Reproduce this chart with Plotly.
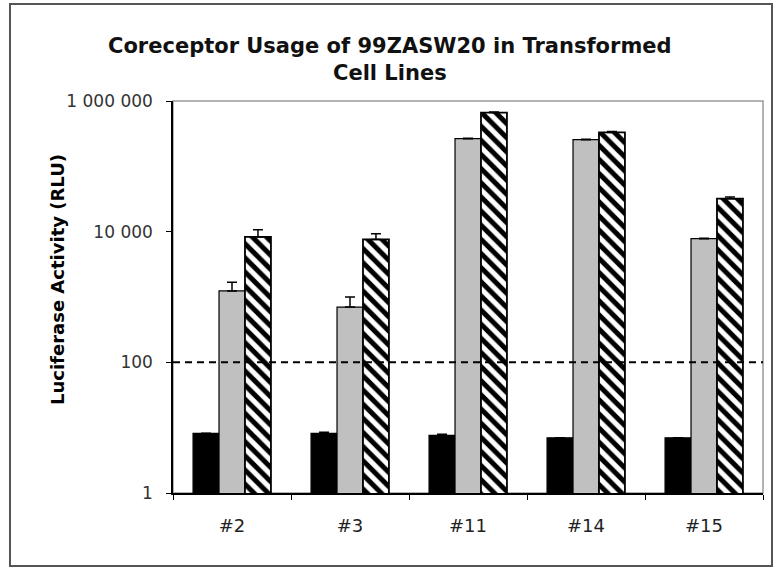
import plotly.graph_objects as go

categories = ["#2", "#3", "#11", "#14", "#15"]
black_vals = [8.2, 8.2, 7.6, 7.0, 7.0]
black_err = [0, 0.3, 0.3, 0, 0]
gray_vals = [1240, 700, 265000, 256000, 7800]
gray_err = [440, 300, 4000, 3000, 150]
hatch_vals = [8300, 7600, 665000, 330000, 32000]
hatch_err = [2400, 1700, 15000, 10000, 2000]
threshold = 100
ytick_vals = [1, 100, 10000, 1000000]
ytick_text = ["1", "100", "10 000", "1 000 000"]
title_lines = ["Coreceptor Usage of 99ZASW20 in Transformed", "Cell Lines"]
ytitle = "Luciferase Activity (RLU)"

W, H = 780, 569
L, R, T, B = 173, 17, 101, 76
pw, ph = W - L - R, H - T - B
FONT = "DejaVu Sans, Liberation Sans, Arial"

def px_x(x):
    return (x - L) / pw

def px_y(y):
    return (H - B - y) / ph

def err(vals):
    return dict(type="data", array=vals, arrayminus=[0] * len(vals), symmetric=False,
                color="black", thickness=1.5, width=5)

fig = go.Figure()
fig.add_bar(x=categories, y=black_vals, marker=dict(color="black", line=dict(color="black", width=1.2)),
            error_y=err(black_err), name="black")
fig.add_bar(x=categories, y=gray_vals, marker=dict(color="#c0c0c0", line=dict(color="black", width=1.2)),
            error_y=err(gray_err), name="gray")
fig.add_bar(x=categories, y=hatch_vals,
            marker=dict(color="white", line=dict(color="black", width=1.8),
                        pattern=dict(shape="\\", fgcolor="black", bgcolor="white", size=10, solidity=0.5,
                                     fillmode="replace")),
            error_y=err(hatch_err), name="hatched")

# plot-area border (gray)
fig.add_shape(type="rect", xref="paper", yref="paper", x0=0, x1=1, y0=0, y1=1,
              line=dict(color="#9a9a9a", width=1.5), layer="below")
# threshold line
fig.add_shape(type="line", xref="paper", yref="y", x0=0, x1=1, y0=threshold, y1=threshold,
              line=dict(color="black", width=2, dash="7px,5px"), layer="above")
# outer chart border
fig.add_shape(type="rect", xref="paper", yref="paper",
              x0=px_x(10), x1=px_x(772), y0=px_y(566), y1=px_y(4),
              line=dict(color="#555555", width=2), layer="below")

# title as two lines
for txt, yc in zip(title_lines, [46, 73]):
    fig.add_annotation(text=txt, xref="paper", yref="paper", x=px_x(390), y=px_y(yc),
                       showarrow=False, xanchor="center", yanchor="middle",
                       font=dict(family=FONT, size=21, color="#111", weight="bold"))

fig.add_annotation(text=ytitle, xref="paper", yref="paper", x=px_x(57), y=px_y(280),
                   textangle=-90, showarrow=False, xanchor="center", yanchor="middle",
                   font=dict(family=FONT, size=18, color="black", weight="bold"))

fig.update_layout(
    width=W, height=H,
    margin=dict(l=L, r=R, t=T, b=B),
    paper_bgcolor="white", plot_bgcolor="white",
    showlegend=False,
    barmode="group", bargap=0.34, bargroupgap=0,
    font=dict(family=FONT, color="#222"),
)

fig.update_xaxes(showline=True, linecolor="black", linewidth=1.5, ticks="outside", ticklen=5,
                 tickcolor="black", tickson="boundaries", showgrid=False, ticklabelstandoff=16,
                 tickfont=dict(family=FONT, size=18, color="#222"), zeroline=False)
fig.update_yaxes(type="log", range=[0, 6], showline=True, linecolor="black", linewidth=1.5,
                 ticks="outside", ticklen=5, tickcolor="black", tickvals=ytick_vals, ticktext=ytick_text,
                 showgrid=False, ticklabelstandoff=10,
                 tickfont=dict(family=FONT, size=17, color="#333"), zeroline=False)

fig.write_html("out.html")
